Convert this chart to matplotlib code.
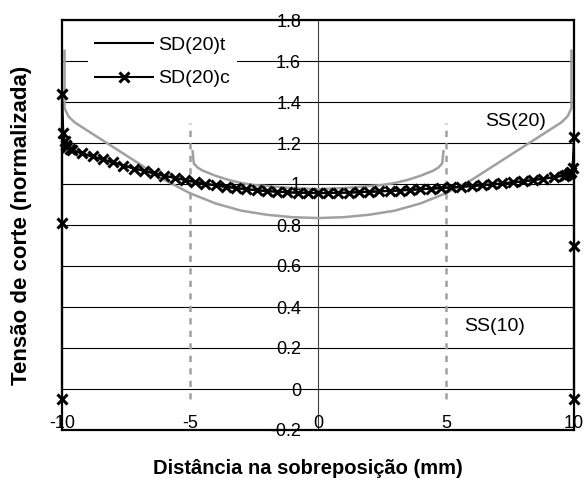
import matplotlib.pyplot as plt
from matplotlib.transforms import ScaledTranslation

plt.rcParams['font.family'] = ['Liberation Sans', 'DejaVu Sans']

# SD(20)c - pontos do modelo (marcadores x)
sd20c_x = [-10, -10, -10, -9.95, -9.9, -9.85, -9.8, -9.7, -9.6, -9.2, -8.8, -8.4,
           -8.0, -7.6, -7.2, -6.8, -6.4, -6.0, -5.6, -5.2, -4.8, -4.4, -4.0, -3.6,
           -3.2, -2.8, -2.4, -2.0, -1.6, -1.2, -0.8, -0.4, 0.0, 0.4, 0.8, 1.2,
           1.6, 2.0, 2.4, 2.8, 3.2, 3.6, 4.0, 4.4, 4.8, 5.2, 5.6, 6.0,
           6.4, 6.8, 7.2, 7.6, 8.0, 8.4, 8.8, 9.2, 9.6, 9.7, 9.8, 9.85,
           9.9, 9.95, 10, 10, 10]
sd20c_y = [-0.05, 0.81, 1.44, 1.25, 1.21, 1.19, 1.18, 1.17, 1.165, 1.15, 1.135, 1.12,
           1.105, 1.09, 1.075, 1.065, 1.052, 1.04, 1.03, 1.02, 1.01, 1.0, 0.993, 0.986,
           0.98, 0.975, 0.97, 0.966, 0.963, 0.96, 0.958, 0.957, 0.956, 0.956, 0.957, 0.958,
           0.96, 0.962, 0.964, 0.966, 0.968, 0.971, 0.974, 0.977, 0.98, 0.983, 0.986, 0.99,
           0.994, 0.998, 1.003, 1.008, 1.013, 1.019, 1.025, 1.032, 1.04, 1.043, 1.048, 1.053,
           1.06, 1.08, 1.23, 0.70, -0.05]

# SD(20)t - linha continua
sd20t_x = [-10, -10, -9.9, -9.5, -9, -8, -7, -6, -5, -4, -3, -2, -1, 0,
           1, 2, 3, 4, 5, 6, 7, 8, 9, 9.5, 9.9, 10, 10]
sd20t_y = [0.0, 1.30, 1.18, 1.16, 1.14, 1.105, 1.07, 1.04, 1.015, 0.993, 0.977, 0.965, 0.958, 0.955,
           0.957, 0.962, 0.968, 0.975, 0.982, 0.99, 1.0, 1.013, 1.03, 1.04, 1.06, 1.15, 0.0]

# SS(20)
ss20_x = [-9.9, -9.9, -9.75, -9.5, -9.0, -8.5, -8.0, -7.0, -6.0, -5.0, -4.0, -3.0, -2.0, -1.0, 0.0,
          1.0, 2.0, 3.0, 4.0, 5.0, 6.0, 7.0, 8.0, 8.5, 9.0, 9.5, 9.75, 9.9, 9.9]
ss20_y = [1.65, 1.37, 1.33, 1.30, 1.26, 1.22, 1.18, 1.10, 1.02, 0.955, 0.905, 0.87, 0.85, 0.838, 0.834,
          0.838, 0.85, 0.87, 0.905, 0.955, 1.02, 1.10, 1.18, 1.22, 1.26, 1.30, 1.33, 1.37, 1.65]

# SS(10) - zona de sobreposicao e extremidades
ss10_x = [-4.9, -4.85, -4.7, -4.5, -4.0, -3.5, -3.0, -2.5, -2.0, -1.0, 0.0,
          1.0, 2.0, 2.5, 3.0, 3.5, 4.0, 4.5, 4.7, 4.85, 4.9]
ss10_y = [1.16, 1.10, 1.08, 1.065, 1.04, 1.02, 1.005, 0.995, 0.99, 0.98, 0.975,
          0.98, 0.99, 0.995, 1.005, 1.02, 1.04, 1.065, 1.08, 1.10, 1.16]
ss10_ext_x = [-5, 5]
ss10_ext_lo = -0.05
ss10_ext_hi = 1.30

x_ticks = [-10, -5, 0, 5, 10]
y_ticks = [-0.2, 0, 0.2, 0.4, 0.6, 0.8, 1.0, 1.2, 1.4, 1.6, 1.8]

cinza = '#a0a0a0'

fig = plt.figure(figsize=(5.86, 4.84), dpi=100)
ax = fig.add_axes([62 / 586, 54 / 484, 512 / 586, 410 / 484])
ax.set_xlim(-10, 10)
ax.set_ylim(-0.2, 1.8)

ax.set_yticks(y_ticks)
ax.set_xticks(x_ticks)
ax.yaxis.grid(True, color='black', lw=0.8)
ax.set_axisbelow(True)
ax.tick_params(left=False, labelleft=False, bottom=False, labelbottom=False)
for s in ax.spines.values():
    s.set_linewidth(1.6)
    s.set_color('black')
ax.axvline(0, color='#404040', lw=0.8, zorder=1)

# curvas SS
ax.plot(ss20_x, ss20_y, color=cinza, lw=1.8, zorder=2)
ax.plot(ss10_x, ss10_y, color=cinza, lw=1.8, zorder=2)
ax.vlines(ss10_ext_x, ss10_ext_lo, ss10_ext_hi, color=cinza, lw=1.8,
          linestyles=(0, (2.5, 2.5)), zorder=2)

# curvas SD
ax.plot(sd20t_x, sd20t_y, color='black', lw=1.5, label='SD(20)t', zorder=3, clip_on=False)
ax.plot(sd20c_x, sd20c_y, color='black', lw=1.5, marker='x', ms=7.5, mew=2.2,
        label='SD(20)c', zorder=4, clip_on=False)

# rotulos dos eixos junto ao eixo vertical x=0
off_y = ScaledTranslation(-0.17, 0, fig.dpi_scale_trans)
for v in y_ticks:
    ax.text(0, v, '{:g}'.format(v), ha='right', va='center_baseline', fontsize=13,
            transform=ax.transData + off_y, zorder=5)
off_x = ScaledTranslation(0, 0.02, fig.dpi_scale_trans)
for v in x_ticks:
    ax.text(v, -0.2, '{:g}'.format(v), ha='center', va='baseline', fontsize=13,
            transform=ax.transData + off_x, zorder=5)

ax.text(7.73, 1.307, 'SS(20)', ha='center', va='center', fontsize=14)
ax.text(6.9, 0.307, 'SS(10)', ha='center', va='center', fontsize=14)

leg = ax.legend(loc='upper left', bbox_to_anchor=(0.051, 0.976), fontsize=14,
                numpoints=1, handlelength=3.0, handletextpad=0.25, labelspacing=0.8,
                borderpad=0.35, borderaxespad=0, frameon=True, fancybox=False)
leg.get_frame().set_facecolor('white')
leg.get_frame().set_edgecolor('none')
leg.get_frame().set_alpha(1)

fig.text(308 / 586, 1 - 469 / 484, 'Distância na sobreposição (mm)', ha='center', va='center',
         fontsize=14.5, fontweight='bold')
fig.text(22 / 586, 1 - 225 / 484, 'Tensão de corte (normalizada)', ha='center', va='center',
         rotation=90, fontsize=16, fontweight='bold')

fig.savefig('out.png', dpi=100)
